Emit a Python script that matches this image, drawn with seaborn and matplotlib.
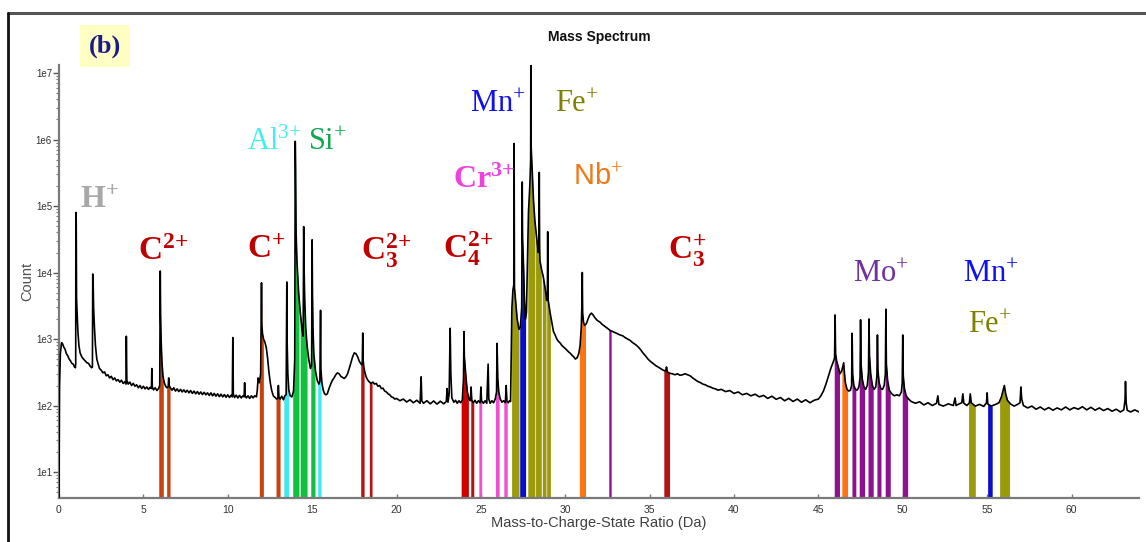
import numpy as np
import matplotlib
matplotlib.use("Agg")
import matplotlib.pyplot as plt
from matplotlib.lines import Line2D
from matplotlib.ticker import FixedLocator, LogLocator, NullFormatter
import seaborn as sns

# ---------------- data ----------------
spectrum_points = [
    (0.00, 4.2), (0.03, 190), (0.08, 600), (0.15, 880), (0.2, 860), (0.28, 760), (0.36, 700),
    (0.44, 600), (0.52, 560), (0.6, 500), (0.68, 470), (0.76, 430), (0.84, 420), (0.92, 380),
    (0.97, 370), (0.99, 420), (1.0, 80000), (1.02, 60000), (1.04, 4200), (1.07, 2600),
    (1.12, 1300), (1.18, 800), (1.25, 620), (1.35, 540), (1.45, 500), (1.55, 470), (1.65, 440),
    (1.75, 430), (1.85, 390), (1.93, 370), (1.98, 380), (2.0, 9500), (2.02, 8000), (2.05, 3000),
    (2.1, 1500), (2.16, 800), (2.24, 500), (2.32, 420), (2.4, 360), (2.5, 340), (2.6, 310),
    (2.7, 320), (2.8, 280), (2.9, 290), (3.0, 260), (3.1, 275), (3.2, 245), (3.3, 260),
    (3.4, 235), (3.5, 245), (3.6, 225), (3.7, 240), (3.8, 215), (3.9, 228), (3.97, 210),
    (3.99, 1100), (4.02, 240), (4.1, 210), (4.2, 225), (4.3, 200), (4.4, 215), (4.5, 195),
    (4.6, 205), (4.7, 185), (4.8, 200), (4.9, 180), (5.0, 195), (5.1, 178), (5.2, 190),
    (5.3, 175), (5.4, 188), (5.48, 180), (5.5, 360), (5.53, 190), (5.6, 172), (5.7, 185),
    (5.8, 168), (5.9, 180), (5.97, 200), (6.0, 10500), (6.02, 2300), (6.05, 1000), (6.1, 450),
    (6.16, 280), (6.24, 220), (6.32, 195), (6.4, 185), (6.47, 190), (6.5, 260), (6.53, 200),
    (6.6, 185), (6.7, 170), (6.8, 185), (6.9, 165), (7.0, 178), (7.1, 162), (7.2, 175),
    (7.3, 160), (7.4, 172), (7.5, 158), (7.6, 170), (7.7, 155), (7.8, 168), (7.9, 152),
    (8.0, 165), (8.1, 150), (8.2, 162), (8.3, 148), (8.4, 160), (8.5, 146), (8.6, 158),
    (8.7, 145), (8.8, 155), (8.9, 142), (9.0, 155), (9.1, 140), (9.2, 152), (9.3, 138),
    (9.4, 150), (9.5, 136), (9.6, 148), (9.7, 135), (9.8, 146), (9.9, 133), (10.0, 145),
    (10.1, 132), (10.2, 143), (10.27, 135), (10.3, 1050), (10.33, 150), (10.4, 132),
    (10.5, 143), (10.6, 130), (10.7, 142), (10.8, 130), (10.9, 140), (10.97, 135), (11.0, 220),
    (11.03, 140), (11.1, 130), (11.2, 140), (11.3, 128), (11.4, 140), (11.5, 130), (11.6, 140),
    (11.7, 135), (11.75, 170), (11.8, 260), (11.87, 220), (11.95, 300), (12.0, 7000),
    (12.02, 1600), (12.06, 1200), (12.12, 1000), (12.2, 900), (12.28, 750), (12.36, 520),
    (12.44, 320), (12.52, 220), (12.6, 170), (12.7, 140), (12.8, 132), (12.9, 125),
    (12.97, 128), (13.0, 200), (13.03, 135), (13.1, 125), (13.2, 138), (13.3, 122),
    (13.38, 140), (13.46, 145), (13.5, 7200), (13.52, 900), (13.56, 300), (13.62, 170),
    (13.7, 140), (13.8, 135), (13.9, 165), (13.97, 500), (14.0, 9.4e5), (14.02, 3.8e5),
    (14.05, 4.0e4), (14.1, 1.5e4), (14.2, 5000), (14.3, 2500), (14.4, 1400), (14.47, 1100),
    (14.5, 4.9e4), (14.52, 1.3e4), (14.56, 4000), (14.62, 1500), (14.7, 800), (14.8, 500),
    (14.9, 360), (14.97, 400), (15.0, 3.1e4), (15.02, 5000), (15.05, 1500), (15.1, 600),
    (15.2, 330), (15.3, 240), (15.4, 210), (15.46, 230), (15.5, 2700), (15.52, 350),
    (15.58, 220), (15.66, 170), (15.74, 150), (15.82, 145), (15.9, 150), (16.0, 180),
    (16.1, 210), (16.2, 240), (16.3, 260), (16.4, 290), (16.5, 310), (16.6, 300), (16.7, 275),
    (16.8, 265), (16.9, 255), (17.0, 270), (17.1, 300), (17.2, 360), (17.3, 440), (17.4, 540),
    (17.5, 620), (17.6, 600), (17.7, 540), (17.8, 460), (17.9, 420), (17.97, 410),
    (18.0, 1230), (18.02, 500), (18.06, 380), (18.12, 320), (18.2, 270), (18.3, 240),
    (18.4, 225), (18.5, 215), (18.6, 225), (18.7, 210), (18.8, 215), (18.9, 195), (19.0, 200),
    (19.1, 180), (19.2, 182), (19.3, 165), (19.4, 160), (19.5, 150), (19.6, 145), (19.7, 135),
    (19.8, 132), (19.9, 125), (20.0, 128), (20.2, 118), (20.4, 125), (20.6, 113), (20.8, 122),
    (21.0, 110), (21.2, 120), (21.4, 108), (21.46, 270), (21.5, 118), (21.6, 108), (21.8, 118),
    (22.0, 106), (22.2, 117), (22.4, 105), (22.6, 116), (22.8, 106), (22.95, 115), (23.0, 180),
    (23.05, 112), (23.12, 150), (23.18, 1450), (23.22, 300), (23.28, 130), (23.4, 112),
    (23.5, 120), (23.6, 108), (23.7, 118), (23.8, 110), (23.9, 120), (23.97, 250),
    (24.0, 1290), (24.02, 550), (24.06, 400), (24.12, 260), (24.2, 160), (24.3, 125),
    (24.38, 118), (24.42, 190), (24.46, 120), (24.55, 110), (24.65, 120), (24.75, 108),
    (24.85, 118), (24.96, 110), (25.0, 190), (25.04, 118), (25.15, 108), (25.25, 118),
    (25.35, 108), (25.43, 420), (25.47, 125), (25.55, 108), (25.65, 118), (25.75, 110),
    (25.85, 125), (25.93, 160), (25.96, 860), (26.0, 260), (26.06, 160), (26.15, 125),
    (26.25, 112), (26.35, 118), (26.45, 110), (26.5, 200), (26.54, 118), (26.62, 110),
    (26.7, 118), (26.76, 115), (26.8, 600), (26.84, 3000), (26.9, 5500), (26.95, 6500),
    (26.97, 8.7e5), (26.99, 6000), (27.05, 4000), (27.15, 2000), (27.26, 1400),
    (27.34, 1500), (27.42, 3000), (27.45, 2.3e5), (27.47, 3.3e4), (27.53, 1.2e4),
    (27.58, 4000), (27.64, 2000), (27.7, 2500), (27.76, 1.5e4), (27.82, 8e4), (27.9, 2e5),
    (27.95, 5e5), (27.96, 1.3e7), (27.98, 7.7e5), (28.05, 3e5), (28.12, 1.2e5), (28.2, 6e4),
    (28.3, 3.4e4), (28.4, 2e4), (28.44, 2.5e4), (28.46, 3.2e5), (28.48, 2.4e4), (28.5, 1.5e4),
    (28.6, 1.1e4), (28.7, 8600), (28.8, 6000), (28.9, 3800), (28.94, 4000), (28.96, 4.1e4),
    (28.98, 4000), (29.1, 2500), (29.3, 1300), (29.4, 1150),
    (29.5, 1000), (29.6, 920), (29.7, 870), (29.8, 800), (29.9, 760), (30.0, 720),
    (30.1, 680), (30.2, 640), (30.3, 610), (30.4, 570), (30.5, 540), (30.6, 500), (30.7, 520),
    (30.8, 600), (30.88, 800), (30.95, 1500), (30.99, 3500), (31.01, 1.0e4), (31.03, 2500),
    (31.08, 1800), (31.15, 1600), (31.25, 1700), (31.35, 2000), (31.45, 2300), (31.55, 2450),
    (31.65, 2300), (31.75, 2100), (31.9, 1900), (32.05, 1800), (32.2, 1650), (32.35, 1550),
    (32.5, 1450), (32.65, 1350), (32.8, 1300), (32.95, 1250), (33.1, 1200), (33.25, 1150),
    (33.4, 1120), (33.55, 1050), (33.7, 1000), (33.85, 950), (34.0, 880), (34.15, 830),
    (34.3, 770), (34.45, 700), (34.6, 620), (34.75, 560), (34.9, 500), (35.05, 460),
    (35.2, 430), (35.35, 400), (35.5, 380), (35.65, 360), (35.8, 340), (35.95, 330),
    (36.0, 380), (36.05, 320), (36.2, 305), (36.35, 300), (36.5, 290), (36.65, 300),
    (36.8, 285), (36.95, 290), (37.1, 300), (37.25, 290), (37.4, 280), (37.55, 260),
    (37.7, 245), (37.85, 230), (38.0, 222), (38.15, 210), (38.3, 205), (38.45, 195),
    (38.6, 190), (38.75, 182), (38.9, 178), (39.05, 170), (39.25, 175), (39.5, 162),
    (39.75, 168), (40.0, 152), (40.25, 160), (40.5, 145), (40.75, 152), (41.0, 140),
    (41.25, 148), (41.5, 135), (41.75, 142), (42.0, 128), (42.25, 138), (42.5, 124),
    (42.75, 132), (43.0, 118), (43.25, 128), (43.5, 115), (43.75, 125), (44.0, 112),
    (44.25, 122), (44.5, 110), (44.75, 120), (45.0, 125), (45.15, 140), (45.3, 165),
    (45.45, 210), (45.6, 280), (45.75, 370), (45.88, 450), (45.96, 520), (45.99, 2300),
    (46.02, 600), (46.08, 470), (46.18, 380), (46.28, 300), (46.38, 330), (46.46, 400),
    (46.5, 440), (46.54, 320), (46.6, 220), (46.7, 175), (46.8, 165), (46.9, 170),
    (46.97, 200), (47.0, 1220), (47.03, 300), (47.1, 200), (47.2, 175), (47.3, 170),
    (47.4, 190), (47.47, 260), (47.5, 1940), (47.53, 420), (47.6, 250), (47.7, 190),
    (47.8, 175), (47.9, 200), (47.97, 320), (48.0, 2000), (48.03, 560), (48.1, 300),
    (48.2, 200), (48.3, 175), (48.4, 190), (48.47, 280), (48.5, 1150), (48.53, 340),
    (48.6, 220), (48.7, 180), (48.8, 175), (48.9, 200), (48.97, 300), (49.0, 2800),
    (49.03, 420), (49.1, 240), (49.2, 170), (49.35, 150), (49.5, 140), (49.65, 145),
    (49.8, 140), (49.92, 160), (49.97, 220), (50.0, 1150), (50.03, 280), (50.1, 180),
    (50.2, 140), (50.35, 125), (50.5, 115), (50.75, 108), (51.0, 114), (51.25, 102),
    (51.5, 110), (51.75, 100), (52.0, 108), (52.08, 140), (52.14, 104), (52.4, 98),
    (52.7, 106), (53.0, 100), (53.1, 130), (53.16, 100), (53.35, 106), (53.5, 110),
    (53.56, 150), (53.62, 108), (53.8, 100), (53.95, 110), (54.0, 150), (54.06, 110),
    (54.3, 98), (54.55, 104), (54.8, 97), (54.96, 110), (55.0, 155), (55.04, 105),
    (55.25, 98), (55.5, 104), (55.7, 110), (55.85, 135), (55.95, 170), (56.02, 200),
    (56.1, 150), (56.2, 120), (56.4, 105), (56.6, 98), (56.8, 104), (56.95, 110), (57.0, 190),
    (57.05, 125), (57.15, 100), (57.4, 92), (57.65, 98), (57.9, 88), (58.15, 95), (58.4, 86),
    (58.65, 93), (58.9, 85), (59.15, 92), (59.4, 86), (59.65, 95), (59.9, 86), (60.15, 93),
    (60.4, 88), (60.65, 96), (60.9, 86), (61.15, 94), (61.4, 85), (61.65, 92), (61.9, 84),
    (62.15, 90), (62.4, 82), (62.65, 88), (62.9, 80), (63.1, 86), (63.17, 120), (63.2, 230),
    (63.24, 110), (63.3, 85), (63.5, 80), (63.75, 86), (64.0, 80),
]
mz = np.array([p[0] for p in spectrum_points])
counts = np.array([p[1] for p in spectrum_points])

# ranged regions: ion, start, end (Da)
range_ion = ["C", "C", "C", "C", "Al", "Si", "Si", "Si", "Al", "C3", "C3", "C4", "C3",
             "Cr", "Cr", "Cr", "Fe", "Mn", "Fe", "Fe", "Fe", "Fe", "Nb", "Mo", "C3",
             "Mo", "Nb", "Mo", "Mo", "Mo", "Mo", "Mo", "Mo", "Fe", "Mn", "Fe"]
range_lo = [5.91, 6.38, 11.87, 12.86, 13.32, 13.85, 14.29, 14.92, 15.33, 17.88, 18.39, 23.83, 24.40,
            24.88, 25.86, 26.36, 26.82, 27.30, 27.78, 28.24, 28.64, 28.90, 30.84, 32.58, 35.84,
            45.94, 46.39, 46.99, 47.42, 47.94, 48.47, 48.96, 49.97, 53.90, 55.03, 55.74]
range_hi = [6.18, 6.58, 12.11, 13.10, 13.61, 14.22, 14.70, 15.17, 15.53, 18.08, 18.55, 24.26, 24.58,
            25.05, 26.08, 26.56, 27.26, 27.65, 28.20, 28.58, 28.86, 29.12, 31.20, 32.72, 36.18,
            46.25, 46.73, 47.22, 47.74, 48.25, 48.71, 49.26, 50.29, 54.30, 55.30, 56.33]
ion_colors = {"C": "#c8420e", "Al": "#40e8f0", "Si": "#12c040", "C3": "#b01414",
              "C4": "#d00000", "Cr": "#f050d0", "Fe": "#9a9a0c", "Mn": "#0a10c8",
              "Nb": "#ff7412", "Mo": "#8e1290"}

# ion labels: text, left x (Da), baseline y (count), colour, size
label_text = [r"$\mathbf{H^{+}}$", r"$\mathbf{C^{2{+}}}$", r"$\mathbf{C^{+}}$",
              r"$\mathrm{Al^{3{+}}}$", r"$\mathrm{Si^{+}}$", r"$\mathbf{C_3^{2{+}}}$",
              r"$\mathbf{C_4^{2{+}}}$", r"$\mathbf{Cr^{3{+}}}$", r"$\mathrm{Mn^{+}}$",
              r"$\mathrm{Fe^{+}}$", r"Nb$^{+}$", r"$\mathbf{C_3^{+}}$",
              r"$\mathrm{Mo^{+}}$", r"$\mathrm{Mn^{+}}$", r"$\mathrm{Fe^{+}}$"]
label_x = [1.25, 4.68, 11.14, 11.14, 14.76, 17.9, 22.78, 23.34, 24.36, 29.4, 30.47, 36.1,
           47.07, 53.59, 53.88]
label_y = [9.3e4, 1.55e4, 1.66e4, 6.9e5, 6.9e5, 1.55e4, 1.66e4, 1.85e5, 2.6e6, 2.6e6, 2.1e5,
           1.6e4, 7.1e3, 7.1e3, 1.22e3]
label_color = ["#a8a8a8", "#c00000", "#c00000", "#40f0f0", "#10a850", "#c00000", "#c00000",
               "#f040e0", "#1010f0", "#808000", "#f07818", "#c00000", "#7030a0", "#1010f0",
               "#808000"]
label_size = [23, 24, 24, 22, 22, 24, 24, 23, 22, 22, 21, 24, 22, 22, 22]

x_ticks = [0, 5, 10, 15, 20, 25, 30, 35, 40, 45, 50, 55, 60]
y_ticks = [1e1, 1e2, 1e3, 1e4, 1e5, 1e6, 1e7]
y_tick_labels = ["1e1", "1e2", "1e3", "1e4", "1e5", "1e6", "1e7"]

# ---------------- figure ----------------
sns.set_theme(style="white")
plt.rcParams["mathtext.fontset"] = "custom"
plt.rcParams["mathtext.rm"] = "Liberation Serif"
plt.rcParams["mathtext.bf"] = "Liberation Serif:bold"
plt.rcParams["mathtext.it"] = "Liberation Serif:italic"
plt.rcParams["font.family"] = ["Liberation Sans", "DejaVu Sans"]

W, H = 1146, 542
fig = plt.figure(figsize=(W / 100, H / 100), dpi=100)
ax = fig.add_axes([59 / W, 1 - 497.7 / H, (1139 - 59) / W, (497.7 - 65) / H])
ax.set_yscale("log")

# filled ranges, following the spectrum curve (log-space along drawn segments)
logc = np.log10(counts)
for ion, lo, hi in zip(range_ion, range_lo, range_hi):
    inside = mz[(mz > lo) & (mz < hi)]
    xs = np.concatenate([[lo], inside, [hi]])
    ys = 10 ** np.interp(xs, mz, logc)
    ax.fill_between(xs, 1, ys, color=ion_colors[ion], lw=0, zorder=2)

sns.lineplot(x=mz, y=counts, ax=ax, color="black", lw=1.2, estimator=None, sort=False, zorder=3)

ax.set_xlim(0, 64)
ax.set_ylim(4.11, 1.32e7)

for s in ["top", "right"]:
    ax.spines[s].set_visible(False)
for s in ["left", "bottom"]:
    ax.spines[s].set_color("#7a7a7a")
    ax.spines[s].set_linewidth(1.6)

ax.xaxis.set_major_locator(FixedLocator(x_ticks))
ax.set_xticklabels([str(t) for t in x_ticks])
ax.yaxis.set_major_locator(FixedLocator(y_ticks))
ax.set_yticklabels(y_tick_labels)
ax.yaxis.set_minor_locator(LogLocator(base=10, subs=np.arange(2, 10)))
ax.yaxis.set_minor_formatter(NullFormatter())
ax.tick_params(axis="y", which="major", direction="out", length=4, width=1, color="#555555",
               labelsize=7, labelcolor="#333333", pad=1, left=True)
ax.tick_params(axis="y", which="minor", direction="out", length=2, width=0.8, color="#777777", left=True)
ax.tick_params(axis="x", which="major", direction="in", length=3, width=1, color="#777777",
               labelsize=7.5, labelcolor="#333333", pad=5, bottom=True)

ax.set_xlabel("Mass-to-Charge-State Ratio (Da)", fontsize=10.5, color="#404040", labelpad=1)
ax.set_ylabel("Count", fontsize=10.5, color="#505050", labelpad=1)
ax.set_title("Mass Spectrum", fontsize=10, fontweight="bold", color="#111111", pad=17)
ax.grid(False)

for t, x, y, c, s in zip(label_text, label_x, label_y, label_color, label_size):
    ax.text(x, y, t, color=c, fontsize=s, ha="left", va="baseline", zorder=5)

fig.text(105 / W, 1 - 46 / H, "(b)", fontsize=19, fontweight="bold", color="#1a1a8a",
         family="Liberation Serif", ha="center", va="center",
         bbox=dict(boxstyle="square,pad=0.35", facecolor="#ffffc4", edgecolor="none"))

fig.add_artist(Line2D([8 / W, 1], [1 - 13 / H, 1 - 13 / H], color="#555555", lw=2.2,
                      transform=fig.transFigure))
fig.add_artist(Line2D([8 / W, 8 / W], [0, 1 - 13 / H], color="#111111", lw=2.0,
                      transform=fig.transFigure))

fig.savefig("out.png", dpi=100)
